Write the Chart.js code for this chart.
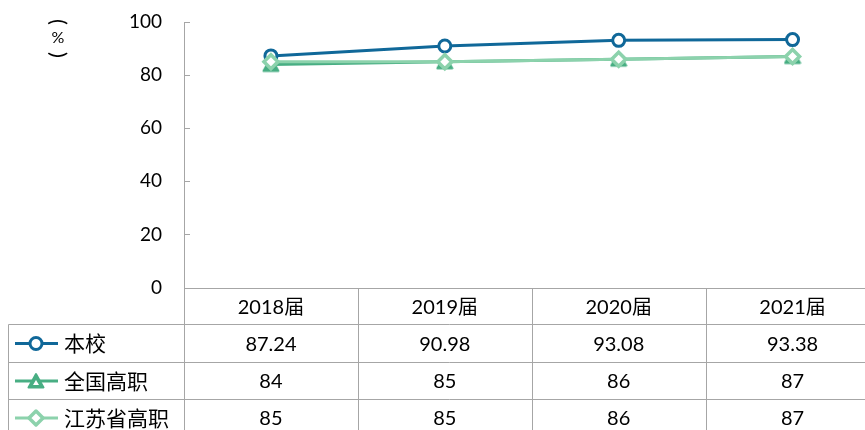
<!DOCTYPE html>
<html>
<head>
<meta charset="utf-8">
<script src="https://cdn.jsdelivr.net/npm/chart.js@4"></script>
<style>
    html, body { margin: 0; padding: 0; background: #fff; overflow: hidden; }
    #wrap { width: 890px; height: 430px; }
</style>
</head>
<body>
<div id="wrap"><canvas id="chart" width="890" height="430"></canvas></div>
<script>
const categories = ["2018届", "2019届", "2020届", "2021届"];
const seriesNames = ["本校", "全国高职", "江苏省高职"];
const schoolValues = [87.24, 90.98, 93.08, 93.38];
const nationalValues = [84, 85, 86, 87];
const jiangsuValues = [85, 85, 86, 87];
const yTicks = [0, 20, 40, 60, 80, 100];

const FONT = "Lato, 'Noto Sans CJK SC', sans-serif";
const GRID = "#a6a6a6";
const colors = ["#106899", "#48ae83", "#8cd2ac"];

// triangle marker centred on its bounding box (like Excel), not on its centroid
function makeTriangle(color) {
    const c = document.createElement("canvas");
    c.width = 18;
    c.height = 18;
    const g = c.getContext("2d");
    g.beginPath();
    g.moveTo(9, 2);
    g.lineTo(16.5, 15.5);
    g.lineTo(1.5, 15.5);
    g.closePath();
    g.lineJoin = "round";
    g.lineWidth = 2;
    g.fillStyle = color;
    g.strokeStyle = color;
    g.fill();
    g.stroke();
    return c;
}
const triangleImg = makeTriangle(colors[1]);

const seriesStyles = [
    { pointStyle: "circle", radius: 6, fill: "#ffffff", border: colors[0], borderWidth: 3 },
    { pointStyle: triangleImg, radius: 8, fill: colors[1], border: colors[1], borderWidth: 2 },
    { pointStyle: "rectRot", radius: 7, fill: "#ffffff", border: colors[2], borderWidth: 3.5 },
];
const seriesValues = [schoolValues, nationalValues, jiangsuValues];

function drawMarker(ctx, style, x, y) {
    const r = style.radius;
    if (typeof style.pointStyle !== "string") {
        ctx.drawImage(style.pointStyle, x - 9, y - 9);
        // small white centre as in the legend key
        ctx.save();
        ctx.fillStyle = "#ffffff";
        ctx.beginPath();
        ctx.moveTo(x, y - 1);
        ctx.lineTo(x + 3, y + 4);
        ctx.lineTo(x - 3, y + 4);
        ctx.closePath();
        ctx.fill();
        ctx.restore();
        return;
    }
    ctx.save();
    ctx.beginPath();
    if (style.pointStyle === "circle") {
        ctx.arc(x, y, r, 0, Math.PI * 2);
    } else {
        ctx.moveTo(x, y - r);
        ctx.lineTo(x + r, y);
        ctx.lineTo(x, y + r);
        ctx.lineTo(x - r, y);
        ctx.closePath();
    }
    ctx.fillStyle = style.fill;
    ctx.fill();
    ctx.lineWidth = style.borderWidth;
    ctx.lineJoin = "round";
    ctx.strokeStyle = style.border;
    ctx.stroke();
    ctx.restore();
}

const tablePlugin = {
    id: "dataTable",
    afterDraw(chart) {
        const ctx = chart.ctx;
        const area = chart.chartArea;
        const xs = chart.scales.x;
        const ys = chart.scales.y;
        const band = (area.right - area.left) / categories.length;
        const top = Math.round(area.bottom) + 0.5;
        const rowTops = [top, top + 36, top + 74, top + 111];
        const bottom = chart.height;
        const tableLeft = 8.5;

        ctx.save();
        ctx.strokeStyle = GRID;
        ctx.lineWidth = 1;

        // y tick marks (inside)
        ys.ticks.forEach((t) => {
            const py = Math.round(ys.getPixelForValue(t.value)) + 0.5;
            ctx.beginPath();
            ctx.moveTo(area.left, py);
            ctx.lineTo(area.left + 6, py);
            ctx.stroke();
        });

        // horizontal borders
        ctx.beginPath();
        ctx.moveTo(area.left, rowTops[0]);
        ctx.lineTo(chart.width, rowTops[0]);
        for (let i = 1; i < rowTops.length; i++) {
            ctx.moveTo(tableLeft, rowTops[i]);
            ctx.lineTo(chart.width, rowTops[i]);
        }
        // vertical borders
        ctx.moveTo(tableLeft, rowTops[1]);
        ctx.lineTo(tableLeft, bottom);
        for (let i = 0; i <= categories.length; i++) {
            const px = Math.round(area.left + i * band) + 0.5;
            ctx.moveTo(px, rowTops[0]);
            ctx.lineTo(px, bottom);
        }
        ctx.stroke();

        ctx.fillStyle = "#000";
        ctx.font = "20px " + FONT;
        ctx.textAlign = "center";
        ctx.textBaseline = "middle";
        categories.forEach((c, i) => {
            const cx = xs.getPixelForValue(i);
            ctx.fillText(c, cx, (rowTops[0] + rowTops[1]) / 2 + 1);
            seriesValues.forEach((vals, s) => {
                const cy = (rowTops[s + 1] + (rowTops[s + 2] || rowTops[s + 1] + 37)) / 2 + 1;
                ctx.fillText(String(vals[i]), cx, cy);
            });
        });

        // legend keys
        ctx.font = "21px " + FONT;
        seriesNames.forEach((name, s) => {
            const cy = (rowTops[s + 1] + (rowTops[s + 2] || rowTops[s + 1] + 37)) / 2;
            ctx.strokeStyle = colors[s];
            ctx.lineWidth = 3;
            ctx.beginPath();
            ctx.moveTo(15, cy);
            ctx.lineTo(58, cy);
            ctx.stroke();
            drawMarker(ctx, seriesStyles[s], 36, cy);
            ctx.fillStyle = "#000";
            ctx.textAlign = "left";
            ctx.fillText(name, 64, cy + 1);
        });

        // vertical axis title "(%)"
        ctx.font = "16px " + FONT;
        ctx.textAlign = "center";
        ctx.fillText("%", 58, 38);
        ctx.font = "22px " + FONT;
        [["(", 22], [")", 55]].forEach(([ch, py]) => {
            ctx.save();
            ctx.translate(58, py);
            ctx.rotate(Math.PI / 2);
            ctx.fillText(ch, 0, 0);
            ctx.restore();
        });
        ctx.restore();
    },
};

const datasets = seriesNames.map((name, s) => ({
    label: name,
    data: seriesValues[s],
    borderColor: colors[s],
    borderWidth: 3,
    pointStyle: seriesStyles[s].pointStyle,
    pointRadius: seriesStyles[s].radius,
    pointBackgroundColor: seriesStyles[s].fill,
    pointBorderColor: seriesStyles[s].border,
    pointBorderWidth: seriesStyles[s].borderWidth,
    tension: 0,
    fill: false,
    order: 3 - s,
}));

new Chart(document.getElementById("chart"), {
    type: "line",
    data: { labels: categories, datasets: datasets },
    options: {
        responsive: false,
        animation: false,
        layout: { padding: { top: 22, right: 8, left: 0, bottom: 0 } },
        plugins: { legend: { display: false }, tooltip: { enabled: false } },
        scales: {
            x: {
                offset: true,
                grid: { display: false, drawTicks: false },
                border: { display: false },
                ticks: { display: false },
                afterFit(scale) { scale.height = 142.5; },
            },
            y: {
                min: 0,
                max: 100,
                afterBuildTicks(scale) { scale.ticks = yTicks.map((v) => ({ value: v })); },
                grid: { display: false, drawTicks: true, tickLength: 22 },
                border: { display: true, color: GRID, width: 1 },
                ticks: { color: "#000", font: { family: FONT, size: 19 }, padding: 0 },
                afterFit(scale) { scale.width = 184; },
            },
        },
    },
    plugins: [tablePlugin],
});
</script>
</body>
</html>
